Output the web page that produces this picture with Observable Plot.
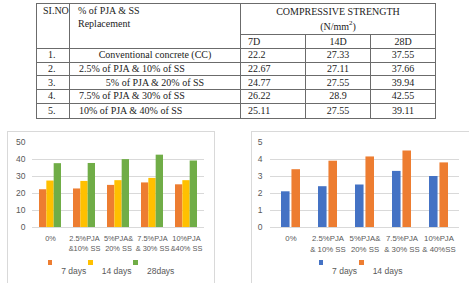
<!DOCTYPE html>
<html><head><meta charset="utf-8">
<script src="https://cdn.jsdelivr.net/npm/d3@7"></script>
<script src="https://cdn.jsdelivr.net/npm/@observablehq/plot@0.6"></script>
<style>
html,body{margin:0;padding:0;background:#fff;}
#page{position:relative;width:469px;height:283px;overflow:hidden;background:#fff;}
table.cs{position:absolute;left:36px;top:3px;border-collapse:collapse;table-layout:fixed;
  font-family:"Liberation Serif","Times New Roman",serif;font-size:10px;color:#222;}
table.cs td{border:1px solid #6b6b6b;padding:0;white-space:nowrap;overflow:hidden;line-height:12px;vertical-align:middle;}
table.cs td.top{vertical-align:top;line-height:13px;}
table.cs td.c{text-align:center;}
table.cs td.l{text-align:left;}
table.cs sup{font-size:7px;line-height:0;vertical-align:5px;}
.chart{position:absolute;border:1px solid #d9d9d9;background:#fff;height:200px;}
.chart svg{display:block;}
.legend{display:flex;justify-content:center;font-family:"Liberation Sans",Arial,sans-serif;font-size:8.5px;color:#595959;}
.legend .item{display:flex;align-items:flex-start;margin:0 1px;}
.legend .sw{width:4.5px;height:4.5px;margin-top:3px;margin-right:9px;}
.legend .tx{padding-top:8.5px;line-height:11px;}
</style>
</head><body>
<div id="page"></div>
<script>
// ---------- data ----------
const rowNo = ["1.", "2.", "3.", "4.", "5."];
const mixes = ["Conventional concrete (CC)", "2.5% of PJA & 10% of SS", "5% of PJA & 20% of SS", "7.5% of PJA & 30% of SS", "10% of PJA & 40% of SS"];
const headNo = "SI.NO";
const headMix = ["% of PJA & SS", "Replacement"];
const headStrength = "COMPRESSIVE STRENGTH";
const headUnit = ["(N/mm", "2", ")"];
const ages = ["7D", "14D", "28D"];
const cs7 = [22.2, 22.67, 24.77, 26.22, 25.11];
const cs14 = [27.33, 27.11, 27.55, 28.9, 27.55];
const cs28 = [37.55, 37.66, 39.94, 42.55, 39.11];

const cats1 = ["0%", "2.5%PJA\n&10% SS", "5%PJA&\n20% SS", "7.5%PJA\n& 30% SS", "10%PJA\n&40% SS"];
const series1 = ["7 days", "14 days", "28days"];
const yTicks1 = [0, 10, 20, 30, 40, 50];

const cats2 = ["0%", "2.5%PJA\n& 10% SS", "5%PJA&\n20% SS", "7.5%PJA\n& 30% SS", "10%PJA\n& 40%SS"];
const series2 = ["7 days", "14 days"];
const t7 = [2.1, 2.4, 2.5, 3.3, 3.0];
const t14 = [3.4, 3.9, 4.15, 4.5, 3.8];
const yTicks2 = [0, 1, 2, 3, 4, 5];

const colors1 = ["#ED7D31", "#FFC000", "#70AD47"];
const colors2 = ["#4472C4", "#ED7D31"];

// ---------- table ----------
const page = d3.select("#page");
const tbl = page.append("table").attr("class", "cs");
const cg = tbl.append("colgroup");
[33, 171, 65, 65, 65].forEach(w => cg.append("col").style("width", w + "px"));
const h1 = tbl.append("tr").style("height", "29px");
h1.append("td").attr("rowspan", 2).attr("class", "top l").style("padding-left", "6px").text(headNo);
const hm = h1.append("td").attr("rowspan", 2).attr("class", "top l").style("padding-left", "8px");
hm.append("div").text(headMix[0]);
hm.append("div").text(headMix[1]);
const hs = h1.append("td").attr("colspan", 3).attr("class", "top c").style("line-height", "15px");
hs.append("div").text(headStrength);
const hu = hs.append("div");
hu.append("span").text(headUnit[0]);
hu.append("sup").text(headUnit[1]);
hu.append("span").text(headUnit[2]);
const h2 = tbl.append("tr").style("height", "14px");
ages.forEach((a, i) => h2.append("td").attr("class", i === 0 ? "l" : "c").style("padding-left", i === 0 ? "7px" : null).text(a));
const mixAlign = ["c", "l", "c", "l", "l"];
const rowH = [13.7, 13.7, 13.7, 13.7, 15];
rowNo.forEach((n, i) => {
  const tr = tbl.append("tr").style("height", rowH[i] + "px");
  tr.append("td").attr("class", "l").style("padding-left", "11px").text(n);
  tr.append("td").attr("class", mixAlign[i]).style("padding-left", mixAlign[i] === "l" ? "9px" : null).text(mixes[i]);
  tr.append("td").attr("class", "l").style("padding-left", "7px").text(String(cs7[i]));
  tr.append("td").attr("class", "c").text(String(cs14[i]));
  tr.append("td").attr("class", "c").text(String(cs28[i]));
});

// ---------- charts ----------
function makeChart({left, width, cats, series, values, colors, yTicks, marginLeft, pInner, pOuter, gap, tickPad, xFont}) {
  const marginRight = 10;
  const box = page.append("div").attr("class", "chart")
    .style("left", left + "px").style("top", "131px").style("width", width + "px");
  // band geometry (for splitting each category band among the series)
  const W = width - marginLeft - marginRight;
  const step = W / (cats.length - pInner + 2 * pOuter);
  const bw = step * (1 - pInner);
  const n = series.length;
  const w = (bw - (n - 1) * gap) / n;
  const marks = [
    Plot.ruleY(yTicks.slice(0, -1), {stroke: "#d9d9d9", strokeWidth: 1}),
    Plot.axisY({ticks: yTicks, tickFormat: d => String(d), tickSize: 0, tickPadding: tickPad, label: null, fill: "#595959", fontSize: 8.5}),
    Plot.axisX({anchor: "bottom", tickSize: 0, tickPadding: 6, lineHeight: 1.4, label: null, fill: "#595959", fontSize: xFont})
  ];
  series.forEach((s, j) => {
    const rows = cats.map((c, i) => ({cat: c, s, v: values[j][i]}));
    const insetLeft = j * (w + gap);
    const insetRight = bw - insetLeft - w;
    marks.push(Plot.barY(rows, {x: "cat", y: "v", fill: "s", insetLeft, insetRight}));
  });
  const svg = Plot.plot({
    width, height: 125,
    marginLeft, marginRight, marginTop: 10, marginBottom: 30,
    style: {fontFamily: "'Liberation Sans', Arial, sans-serif", fontSize: "8.5px", color: "#595959", background: "transparent", overflow: "visible"},
    x: {domain: cats, paddingInner: pInner, paddingOuter: pOuter, label: null, axis: null},
    y: {domain: [0, yTicks[yTicks.length - 1]], label: null, axis: null},
    color: {domain: series, range: colors},
    marks
  });
  box.node().appendChild(svg);
  const lg = box.append("div").attr("class", "legend");
  series.forEach((s, j) => {
    const it = lg.append("div").attr("class", "item");
    it.append("div").attr("class", "sw").style("background", colors[j]);
    it.append("div").attr("class", "tx").text(s);
  });
}

makeChart({left: 7, width: 206, cats: cats1, series: series1, values: [cs7, cs14, cs28], colors: colors1,
  yTicks: yTicks1, marginLeft: 24, pInner: 0.36, pOuter: 0.18, gap: 0, tickPad: 7, xFont: 7.4});
makeChart({left: 251, width: 217, cats: cats2, series: series2, values: [t7, t14], colors: colors2,
  yTicks: yTicks2, marginLeft: 18, pInner: 0.5, pOuter: 0.25, gap: 2, tickPad: 8, xFont: 7.8});
</script>
</body></html>
